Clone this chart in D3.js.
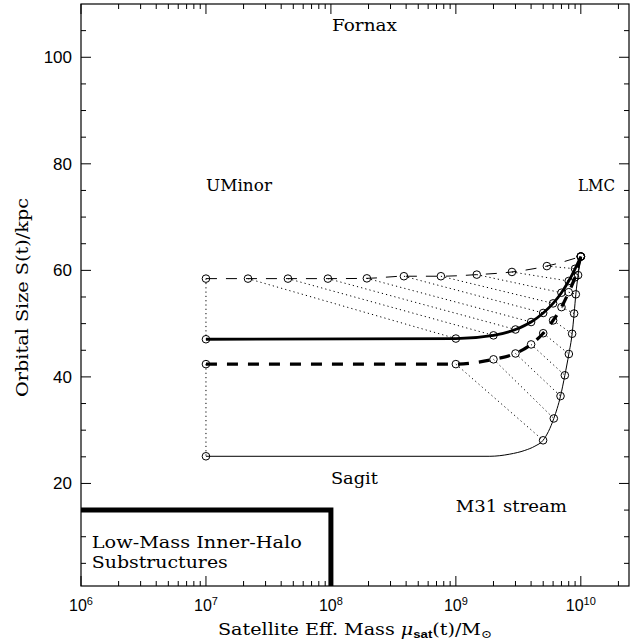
<!DOCTYPE html>
<html><head><meta charset="utf-8">
<script src="https://cdn.jsdelivr.net/npm/d3@7"></script>
<style>html,body{margin:0;padding:0;background:#fff;}svg{display:block;}</style>
</head><body>
<svg id="c" width="644" height="643"></svg>
<script>
// ---- data (satellite mass in solar masses, orbital size in kpc), ordered in time from the LMC start ----
const topMass    = [1e10, 5.35e9, 2.81e9, 1.47e9, 7.59e8, 3.84e8, 1.94e8, 9.46e7, 4.53e7, 2.17e7, 1e7];
const topSize    = [62.6, 60.8, 59.7, 59.2, 58.9, 58.9, 58.5, 58.45, 58.45, 58.45, 58.45];
const solidMass  = [1e10, 9e9, 8e9, 7e9, 6e9, 5e9, 4e9, 3e9, 2e9, 1e9, 1e7];
const solidSize  = [62.6, 60.3, 58.0, 55.8, 53.8, 52.0, 50.3, 48.9, 47.8, 47.2, 47.07];
const dashMass   = [1e10, 9e9, 8e9, 7e9, 6e9, 5e9, 4e9, 3e9, 2e9, 1e9, 1e7];
const dashSize   = [62.6, 58.7, 55.9, 53.1, 50.6, 48.2, 46.1, 44.4, 43.3, 42.4, 42.4];
const bottomMass = [1e10, 9.51e9, 9.12e9, 8.84e9, 8.52e9, 8.02e9, 7.45e9, 6.88e9, 6.08e9, 4.99e9, 1e7];
const bottomSize = [62.6, 59.1, 55.5, 51.9, 48.1, 44.3, 40.3, 36.4, 32.2, 28.1, 25.1];
// extra points tracing the bend of the thin solid curve (no markers)
const bendMass = [1.87e9, 2.7e9, 3.56e9, 4.29e9];
const bendSize = [25.1, 25.5, 26.2, 27.0];
// low-mass inner-halo region corner
const boxMass = 1e8, boxSize = 15;
const xTickExps = [6, 7, 8, 9, 10];
const yTickLabels = [20, 40, 60, 80, 100];
const labels = [
  {t: "Fornax", m: 1.02e8, s: 104.9, w: 65},
  {t: "UMinor", m: 1e7, s: 74.85, w: 66},
  {t: "LMC", m: 9.5e9, s: 74.85, w: 37},
  {t: "Sagit", m: 1e8, s: 19.85, w: 47},
  {t: "M31 stream", m: 1e9, s: 14.6, w: 111},
  {t: "Low-Mass Inner-Halo", m: 1.22e6, s: 7.8, w: 210},
  {t: "Substructures", m: 1.22e6, s: 4.1, w: 136}
];

const svg = d3.select("#c");
const x = d3.scaleLog().domain([1e6, 2.43e10]).range([81, 629]);
const y = d3.scaleLinear().domain([0.75, 110]).range([586, 4]);
const serif = "'DejaVu Serif', serif";
const sans = "'Liberation Sans', Arial, sans-serif";

const zip = (ms, ss) => ms.map((m, i) => ({m, s: ss[i]}));
const topPts = zip(topMass, topSize), solidPts = zip(solidMass, solidSize),
      dashPts = zip(dashMass, dashSize), botPts = zip(bottomMass, bottomSize);
const byM = a => a.slice().sort((p, q) => p.m - q.m);
const line = d3.line().x(d => x(d.m)).y(d => y(d.s)).curve(d3.curveMonotoneX);
const straight = d3.line().x(d => x(d.m)).y(d => y(d.s));

// dotted connectors at equal times: top -> thick solid, thick dashed -> thin solid
const dot = svg.append("g").attr("fill", "none").attr("stroke", "#000")
  .attr("stroke-width", 1).attr("stroke-dasharray", "1.2,3.1");
for (let i = 1; i < topPts.length; i++) {
  dot.append("path").attr("d", straight([topPts[i], solidPts[i]]));
  dot.append("path").attr("d", straight([dashPts[i], botPts[i]]));
}

// curves
svg.append("path").attr("d", line(byM(topPts))).attr("fill", "none").attr("stroke", "#000")
  .attr("stroke-width", 1).attr("stroke-dasharray", "11,9");
svg.append("path").attr("d", line(byM(solidPts))).attr("fill", "none").attr("stroke", "#000")
  .attr("stroke-width", 2.8);
svg.append("path").attr("d", line(byM(dashPts))).attr("fill", "none").attr("stroke", "#000")
  .attr("stroke-width", 3.2).attr("stroke-dasharray", "11,10");
svg.append("path").attr("d", line(byM(botPts.concat(zip(bendMass, bendSize))))).attr("fill", "none")
  .attr("stroke", "#000").attr("stroke-width", 1);

// markers
const mk = svg.append("g").attr("fill", "none").attr("stroke", "#000").attr("stroke-width", 1);
[topPts, solidPts, dashPts, botPts].forEach(a => {
  mk.selectAll(null).data(a).enter().append("circle")
    .attr("cx", d => x(d.m)).attr("cy", d => y(d.s)).attr("r", 3.8);
});

// low-mass box
svg.append("path").attr("fill", "none").attr("stroke", "#000").attr("stroke-width", 5)
  .attr("d", d3.line()([[x.range()[0], y(boxSize)], [x(boxMass), y(boxSize)], [x(boxMass), y.range()[0]]]));

// frame
const [x0, x1] = x.range(), [y0, y1] = y.range();
svg.append("rect").attr("x", x0).attr("y", y1).attr("width", x1 - x0).attr("height", y0 - y1)
  .attr("fill", "none").attr("stroke", "#000").attr("stroke-width", 1.2);

// x ticks (bottom & top)
const xt = svg.append("g").attr("stroke", "#000").attr("stroke-width", 1);
const xTicks = [];
for (let e = 6; e <= 10; e++) for (let k = 1; k <= 9; k++) {
  const v = k * Math.pow(10, e);
  if (v <= x.domain()[1]) xTicks.push({v, major: k === 1});
}
xTicks.forEach(t => {
  const L = t.major ? 10 : 5, px = x(t.v);
  xt.append("line").attr("x1", px).attr("x2", px).attr("y1", y0).attr("y2", y0 - L);
  xt.append("line").attr("x1", px).attr("x2", px).attr("y1", y1).attr("y2", y1 + L);
});
// y ticks (left & right)
d3.range(5, 110, 5).forEach(v => {
  const L = v % 20 === 0 ? 10 : 5, py = y(v);
  xt.append("line").attr("x1", x0).attr("x2", x0 + L).attr("y1", py).attr("y2", py);
  xt.append("line").attr("x1", x1).attr("x2", x1 - L).attr("y1", py).attr("y2", py);
});

// tick labels
xTickExps.forEach(e => {
  const t = svg.append("text").attr("x", x(Math.pow(10, e))).attr("y", 611)
    .attr("text-anchor", "middle").attr("font-family", sans).attr("font-size", 16);
  t.append("tspan").text("10");
  t.append("tspan").attr("dy", -6).attr("font-size", 11).text(e);
});
yTickLabels.forEach(v => {
  svg.append("text").attr("x", 72).attr("y", y(v) + 6).attr("text-anchor", "end")
    .attr("font-family", sans).attr("font-size", 17).text(v);
});

// annotations
labels.forEach(l => {
  svg.append("text").attr("x", x(l.m)).attr("y", y(l.s)).attr("font-family", serif)
    .attr("font-size", 16).attr("textLength", l.w).attr("lengthAdjust", "spacingAndGlyphs").text(l.t);
});

// axis titles
const xt2 = svg.append("text").attr("x", 218).attr("y", 635).attr("font-family", serif)
  .attr("font-size", 16).attr("textLength", 274).attr("lengthAdjust", "spacingAndGlyphs");
xt2.append("tspan").text("Satellite Eff. Mass ");
xt2.append("tspan").attr("font-style", "italic").text("μ");
xt2.append("tspan").attr("dy", 3).attr("font-size", 11).attr("font-family", sans).attr("font-weight", "bold").text("sat");
xt2.append("tspan").attr("dy", -3).text("(t)/M");
xt2.append("tspan").attr("dy", 3).attr("font-size", 11).text("⊙");
svg.append("text").attr("transform", "translate(28,397) rotate(-90)").attr("font-family", serif)
  .attr("font-size", 16).attr("textLength", 199).attr("lengthAdjust", "spacingAndGlyphs")
  .text("Orbital Size S(t)/kpc");
</script>
</body></html>
